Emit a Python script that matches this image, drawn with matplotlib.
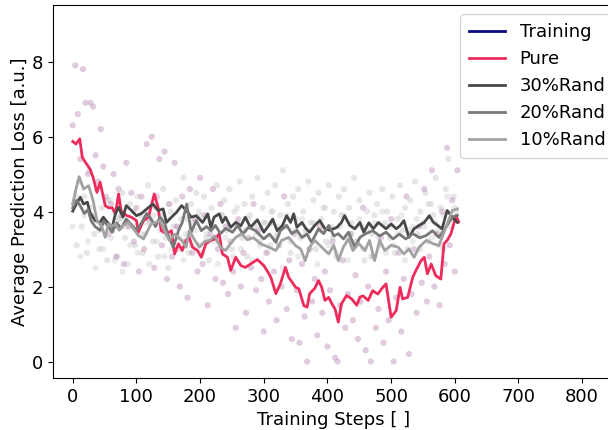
import matplotlib
matplotlib.use('Agg')
import matplotlib.pyplot as plt
import numpy as np

# raw per-step losses (scatter)
pure_pts = [6.3, 7.9, 6.6, 5.4, 7.8, 6.9, 5.0, 6.9, 6.8, 5.5, 4.8, 6.2, 5.2, 4.4, 3.4, 4.2, 5.0, 2.8, 4.6, 3.9,
            2.6, 5.3, 3.6, 4.5, 3.2, 4.1, 2.4, 4.4, 3.0, 5.8, 3.8, 6.0, 2.5, 4.4, 5.4, 3.1, 5.6, 2.2, 4.2, 2.8,
            5.3, 3.6, 2.0, 4.4, 3.2, 1.7, 4.6, 2.9, 3.8, 2.4, 4.9, 2.6, 3.9, 1.5, 3.4, 4.6, 2.2, 3.0, 4.2, 2.1,
            3.6, 1.8, 3.2, 2.4, 0.9, 3.8, 2.0, 2.9, 1.3, 3.3, 2.5, 4.2, 1.9, 3.5, 2.2, 0.8, 2.9, 1.6, 3.7, 2.4,
            1.1, 3.1, 2.0, 4.4, 1.4, 2.7, 0.6, 3.4, 1.9, 0.5, 2.6, 1.2, 0.0, 3.0, 1.6, 2.2, 0.7, 3.6, 1.3, 2.4,
            0.4, 1.9, 3.2, 0.1, 0.0, 1.5, 2.7, 0.9, 1.8, 3.4, 1.1, 2.3, 0.6, 1.6, 4.1, 0.3, 2.0, 0.0, 2.8, 0.9,
            1.4, 3.3, 0.5, 2.4, 1.1, 3.8, 0.0, 1.7, 2.9, 0.8, 2.2, 4.4, 0.2, 1.8, 3.0, 1.3, 3.6, 2.1, 4.6, 1.6,
            2.8, 5.1, 2.0, 3.4, 1.5, 4.0, 2.6, 5.7, 3.1, 4.3, 2.4, 5.1]
pure_pts_x = np.arange(0, 605, 4)

rand_pts_a = [4.2, 3.1, 4.8, 3.6, 4.4, 2.9, 5.1, 3.9, 3.4, 4.6, 3.0, 4.1, 3.7, 2.7, 4.3,
              3.5, 4.0, 2.8, 3.8, 4.5, 3.3, 2.6, 4.2, 3.6, 3.1, 4.4, 3.9, 2.9, 3.4, 4.7,
              3.7, 3.2, 4.1, 2.8, 3.9, 4.6, 3.3, 2.5, 4.0, 3.6, 4.3, 3.0, 3.8, 4.9, 3.4,
              2.9, 4.2, 3.7, 4.5, 3.1, 3.9, 4.4, 3.3, 2.7, 4.1, 3.6, 4.7, 3.2, 3.9, 4.3,
              3.5, 4.6, 3.0, 4.0, 3.7, 4.8, 3.3, 4.2, 2.8, 3.9, 4.4, 3.6, 4.9, 3.2, 4.1,
              3.7, 4.5, 3.1, 4.0, 4.7, 3.4, 3.9, 5.1, 3.6, 4.2, 2.9, 4.4, 3.8, 4.6, 3.3,
              4.0, 3.5, 4.8, 3.7, 4.3, 3.0, 4.5, 3.8, 4.1, 3.2, 4.7, 3.6, 4.0, 2.8, 4.4,
              3.9, 4.6, 3.3, 4.1, 3.7, 4.9, 3.2, 4.3, 3.6, 2.7, 4.0, 4.5, 3.4, 3.9, 4.2,
              3.1, 4.6, 3.7, 4.0, 3.3, 4.4, 2.9, 3.8, 4.7, 3.5, 4.1, 3.0, 4.3, 3.6, 4.8,
              3.4, 4.0, 3.7, 4.5, 3.2, 4.2, 3.9, 4.9, 3.5, 4.1, 3.0, 4.6, 5.4, 3.8, 4.4,
              4.0]
rand_pts_a_x = np.arange(2, 605, 4)

rand_pts_b = [3.6, 4.4, 2.8, 3.9, 3.2, 4.1, 2.5, 3.5, 3.0, 4.3,
              3.3, 2.7, 3.8, 2.4, 3.6, 3.1, 4.0, 2.9, 3.4, 3.7,
              2.6, 3.9, 3.2, 3.5, 2.8, 4.2, 3.0, 3.6, 3.3, 2.7,
              3.8, 3.1, 3.5, 4.0, 2.9, 3.4, 3.7, 3.2, 2.6, 3.9,
              3.3, 3.6, 2.8, 4.1, 3.0, 3.5, 3.8, 2.7, 3.4, 3.1,
              3.7, 2.9, 4.0, 3.3, 3.6, 2.5, 3.9, 3.2, 3.5, 2.8,
              3.8, 3.4, 3.0, 3.7, 2.6, 3.5, 4.1, 3.1, 3.3, 2.9,
              3.6, 3.9, 2.7, 3.4, 3.2, 3.8, 3.0, 3.5, 2.8, 3.7,
              3.3, 4.0, 2.9, 3.6, 3.1, 3.4, 3.9, 2.7, 3.5, 3.2,
              3.8, 3.0, 3.6, 4.2, 3.3, 3.7, 3.1, 3.9, 4.4, 3.6,
              4.1]
rand_pts_b_x = np.arange(0, 605, 6)

# smoothed curves
pure_x = [0, 5, 11, 15, 20, 27, 32, 38, 43, 51, 56, 62, 67, 72, 76, 84, 92, 100, 103, 111,
          119, 128, 134, 139, 147, 155, 160, 166, 172, 178, 183, 188, 196, 202, 209, 217, 224, 230, 235, 243,
          248, 256, 264, 271, 279, 290, 300, 306, 311, 319, 326, 334, 339, 350, 355, 363, 368, 372, 380, 386,
          391, 396, 402, 407, 412, 417, 422, 430, 438, 446, 451, 456, 464, 471, 479, 487, 492, 500, 508, 514,
          518, 526, 534, 539, 547, 552, 557, 563, 570, 578, 583, 588, 594, 602, 606]
pure_y = [5.87, 5.80, 5.94, 5.45, 5.31, 5.14, 4.91, 4.51, 4.78, 4.16, 4.10, 4.10, 3.94, 4.47, 4.02, 3.90, 3.85, 3.76, 3.45, 3.76,
          3.85, 4.47, 4.11, 3.49, 3.41, 3.49, 2.87, 3.14, 2.96, 3.23, 3.31, 3.05, 2.96, 2.78, 3.14, 3.23, 3.27, 3.41, 2.87, 2.78,
          2.43, 2.78, 2.56, 2.51, 2.60, 2.72, 2.56, 2.40, 2.25, 1.81, 2.07, 2.51, 2.25, 1.98, 1.94, 1.49, 1.45, 1.81, 1.95, 2.16,
          1.98, 1.63, 1.71, 1.54, 1.40, 1.05, 1.54, 1.76, 1.67, 1.50, 1.72, 1.75, 1.63, 1.89, 1.80, 1.98, 2.07, 1.18, 1.36, 1.98,
          1.67, 1.71, 2.25, 2.43, 2.69, 2.78, 2.34, 2.60, 2.29, 2.20, 3.14, 3.23, 3.41, 3.89, 3.72]

r30_x = [0, 7, 12, 17, 23, 27, 35, 43, 48, 55, 62, 67, 72, 79, 84, 92, 100, 108, 119, 126,
         134, 142, 147, 155, 163, 171, 180, 186, 194, 204, 212, 217, 222, 230, 235, 240, 248, 256, 264, 271,
         279, 290, 300, 308, 314, 321, 329, 336, 342, 347, 352, 360, 366, 372, 380, 388, 396, 404, 415, 422,
         427, 435, 443, 451, 457, 465, 472, 480, 492, 500, 508, 514, 520, 528, 536, 544, 552, 560, 566, 573,
         580, 588, 596, 604]
r30_y = [4.01, 4.25, 4.38, 4.20, 4.25, 3.98, 3.76, 3.71, 3.85, 3.70, 3.58, 3.94, 4.11, 3.85, 4.16, 4.03, 3.89, 3.95, 4.11, 4.20,
         4.03, 4.07, 3.71, 3.85, 3.98, 4.16, 4.00, 3.85, 3.89, 3.71, 3.94, 3.58, 3.85, 3.94, 3.71, 3.85, 3.58, 3.71, 3.62, 3.85,
         3.58, 3.78, 3.45, 3.63, 3.80, 3.49, 3.62, 3.89, 3.71, 3.94, 3.58, 3.71, 3.55, 3.45, 3.63, 3.76, 3.54, 3.50, 3.58, 3.71,
         3.89, 3.63, 3.54, 3.71, 3.45, 3.70, 3.54, 3.71, 3.54, 3.67, 3.54, 3.62, 3.76, 3.31, 3.54, 3.63, 3.71, 3.89, 3.72, 3.63,
         3.54, 4.03, 3.85, 3.71]

r20_x = [0, 6, 12, 18, 24, 29, 35, 43, 49, 56, 62, 69, 76, 84, 92, 100, 108, 116, 123, 130,
         137, 144, 151, 158, 166, 172, 179, 186, 194, 202, 210, 217, 224, 232, 240, 251, 259, 267, 276, 287,
         300, 309, 319, 326, 336, 344, 352, 360, 368, 375, 386, 394, 402, 410, 417, 425, 433, 443, 451, 459,
         471, 482, 492, 503, 513, 523, 534, 545, 555, 565, 575, 586, 596, 604]
r20_y = [4.10, 4.30, 4.15, 3.95, 4.05, 3.75, 3.60, 3.50, 3.75, 3.60, 3.45, 3.70, 3.55, 3.80, 3.65, 3.50, 3.70, 3.95, 3.80, 3.60,
         3.85, 3.70, 3.31, 3.05, 3.49, 3.71, 4.20, 3.45, 3.76, 3.49, 3.60, 3.49, 3.63, 3.41, 3.55, 3.45, 3.63, 3.40, 3.58, 3.49,
         3.27, 3.40, 3.18, 3.49, 3.63, 3.41, 3.50, 3.31, 3.40, 3.18, 3.54, 3.41, 3.63, 3.35, 3.41, 3.27, 3.45, 3.05, 3.31, 3.40,
         3.49, 3.35, 3.45, 3.27, 3.40, 3.27, 3.41, 3.30, 3.36, 3.49, 3.31, 3.58, 3.85, 3.90]

r10_x = [0, 5, 10, 17, 25, 32, 38, 46, 51, 56, 61, 67, 73, 79, 87, 95, 103, 111, 118, 123,
         129, 137, 144, 152, 160, 171, 178, 183, 191, 199, 207, 215, 223, 232, 240, 248, 256, 265, 274, 284,
         295, 308, 319, 328, 339, 350, 358, 365, 372, 380, 391, 402, 410, 417, 425, 433, 440, 449, 459, 466,
         474, 482, 490, 500, 511, 520, 528, 536, 544, 555, 565, 575, 586, 596, 604]
r10_y = [4.20, 4.60, 4.93, 4.60, 4.69, 4.29, 3.76, 3.58, 3.31, 3.67, 3.60, 3.67, 3.50, 3.63, 3.71, 3.55, 3.36, 3.27, 3.50, 3.67,
         3.70, 3.76, 3.49, 3.23, 3.40, 3.23, 3.05, 3.49, 3.25, 3.05, 3.20, 3.23, 3.35, 3.05, 2.96, 3.15, 3.31, 3.41, 3.25, 3.30,
         3.14, 3.05, 2.96, 3.23, 3.31, 3.09, 3.00, 2.69, 3.05, 3.23, 3.05, 2.87, 3.10, 2.69, 3.05, 3.27, 2.96, 3.15, 2.96, 3.23,
         2.69, 3.23, 2.96, 3.10, 3.05, 2.87, 3.00, 2.78, 3.05, 3.23, 3.15, 3.09, 3.58, 4.03, 4.07]

plt.rcParams['font.family'] = 'DejaVu Sans'
fig = plt.figure(figsize=(6.08, 4.30), dpi=100)
# axes runs off the right edge like in the original (cropped) figure
ax = fig.add_axes([53 / 608, 52 / 430, 561 / 608, 373 / 430])

ax.scatter(rand_pts_a_x, rand_pts_a, s=20, color='#b8b8b8', alpha=0.35, edgecolors='none')
ax.scatter(rand_pts_b_x, rand_pts_b, s=20, color='#c4c4c4', alpha=0.35, edgecolors='none')
ax.scatter(pure_pts_x, pure_pts, s=20, color='#b47fb0', alpha=0.4, edgecolors='none')

ax.plot([], [], color='#0a0a80', lw=2, label='Training')
ax.plot(pure_x, pure_y, color='#ee2c5c', lw=2, label='Pure')
ax.plot(r30_x, r30_y, color='#484848', lw=2, label='30%Rand')
ax.plot(r20_x, r20_y, color='#787878', lw=2, label='20%Rand')
ax.plot(r10_x, r10_y, color='#a2a2a2', lw=2, label='10%Rand')

ax.set_xlim(-31, 850)
ax.set_ylim(-0.44, 9.51)
ax.set_xticks([0, 100, 200, 300, 400, 500, 600, 700, 800])
ax.set_yticks([0, 2, 4, 6, 8])
ax.tick_params(labelsize=13)
ax.set_xlabel('Training Steps [ ]', fontsize=13)
ax.set_ylabel('Average Prediction Loss [a.u.]', fontsize=13, labelpad=2)

ax.legend(loc='upper left', bbox_to_anchor=(460 / 608, 1 - 14 / 430), bbox_transform=fig.transFigure,
          fontsize=13, borderaxespad=0, handlelength=2.0, borderpad=0.5)

fig.savefig('out.png', dpi=100)
